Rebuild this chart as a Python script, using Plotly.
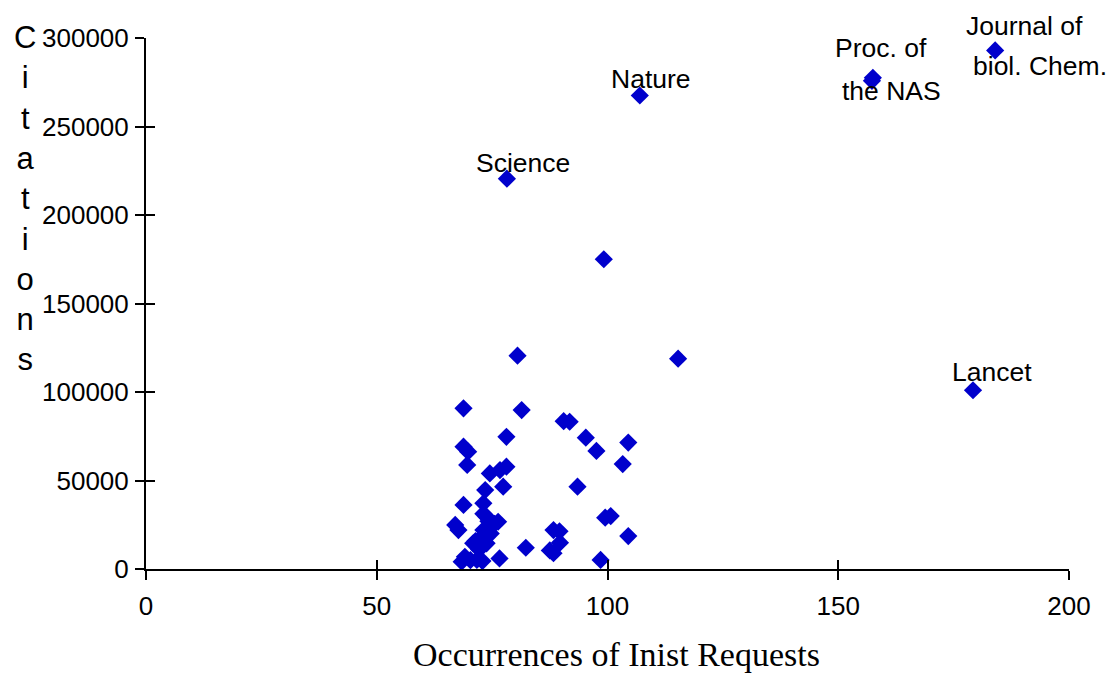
import plotly.graph_objects as go

# Occurrences of Inist requests (x) vs citations (y)
occurrences = [184, 157.5, 157.3, 107, 78.2, 99.2, 80.5, 115.3, 179.2,
               68.8, 81.4, 90.5, 91.8, 78.1, 95.3, 97.6, 104.5, 103.3,
               68.8, 69.8, 69.6, 74.5, 76.7, 78.1, 77.4, 73.5, 93.5,
               68.8, 73.1, 73.1, 67.0, 67.7, 76.3, 73.8, 74.2, 73.1,
               72.4, 71.4, 70.9, 73.8, 72.2, 69.1, 68.4, 71.7, 76.6,
               82.3, 88.3, 89.6, 89.7, 88.3, 87.5, 100.7, 99.5, 104.5,
               98.5, 70.3, 72.9, 74.7, 75.5]
citations = [293000, 277500, 275800, 267500, 220500, 175000, 120500, 118800, 101000,
             90800, 89800, 83500, 83200, 74700, 74200, 66700, 71400, 59300,
             69100, 66300, 58800, 54000, 55900, 57800, 46500, 44600, 46500,
             36200, 37100, 31200, 24900, 22000, 26700, 29500, 27000, 22000,
             17300, 15800, 14500, 14500, 11000, 6900, 4100, 5100, 6000,
             12000, 22000, 21300, 14900, 8900, 10500, 29900, 29000, 18600,
             5100, 5000, 4500, 20000, 25500]

# labelled journals: (text, x, y, xshift, yshift)
labels = [("Science", 78.2, 220500, 16, 16),
          ("Nature", 107, 267500, 11, 17),
          ("Proc. of", 157.5, 277500, 8, 30),
          ("the NAS", 157.5, 277500, 19, -13),
          ("Journal of", 184, 293000, 29, 24),
          ("biol. Chem.", 184, 293000, 45, -16),
          ("Lancet", 179.2, 101000, 19, 18)]

x_ticks = [0, 50, 100, 150, 200]
y_ticks = [0, 50000, 100000, 150000, 200000, 250000, 300000]

fig = go.Figure()
fig.add_trace(go.Scatter(x=occurrences, y=citations, mode="markers",
                         marker=dict(symbol="diamond", size=14, color="#0000CC",
                                     line=dict(width=0)),
                         cliponaxis=False, showlegend=False))
# invisible trace for the inner-tick overlay axes
fig.add_trace(go.Scatter(x=[None], y=[None], xaxis="x2", yaxis="y2",
                         mode="markers", showlegend=False))

for text, x, y, dx, dy in labels:
    fig.add_annotation(x=x, y=y, text=text, showarrow=False, xshift=dx, yshift=dy,
                       font=dict(family="Liberation Sans, Arial", size=26.5, color="black"))

fig.add_annotation(xref="paper", yref="paper", x=0.51, y=0, yanchor="middle",
                   yshift=-85, showarrow=False, text="Occurrences of Inist Requests",
                   font=dict(family="Liberation Serif, Times New Roman", size=34, color="black"))
fig.add_annotation(xref="paper", yref="paper", x=0, xshift=-134, y=0.697,
                   yanchor="middle", showarrow=False,
                   text="<br>".join("Citations"),
                   font=dict(family="Liberation Sans, Arial", size=31, color="black"))

axis_common = dict(showgrid=False, zeroline=False, linecolor="black", linewidth=2,
                   tickcolor="black", tickwidth=2, ticklen=9)
fig.update_layout(
    width=1109, height=673,
    margin=dict(l=146, r=40, t=38, b=104),
    paper_bgcolor="white", plot_bgcolor="white",
    font=dict(family="Liberation Sans, Arial", size=26, color="black"),
    xaxis=dict(range=[0, 200], tickvals=x_ticks, ticks="outside", showline=True,
               ticklabelstandoff=4, **axis_common),
    yaxis=dict(range=[0, 300000], tickvals=y_ticks, ticks="outside", showline=True,
               tickformat="d", ticklabelstandoff=1, **axis_common),
    xaxis2=dict(range=[0, 200], tickvals=x_ticks, ticks="inside", overlaying="x",
                side="bottom", showticklabels=False, showline=False, **axis_common),
    yaxis2=dict(range=[0, 300000], tickvals=y_ticks, ticks="inside", overlaying="y",
                side="left", showticklabels=False, showline=False, **axis_common),
)
fig.write_html("out.html", config={"displayModeBar": False},
               post_script="document.body.style.margin='0';document.body.style.overflow='hidden';")
